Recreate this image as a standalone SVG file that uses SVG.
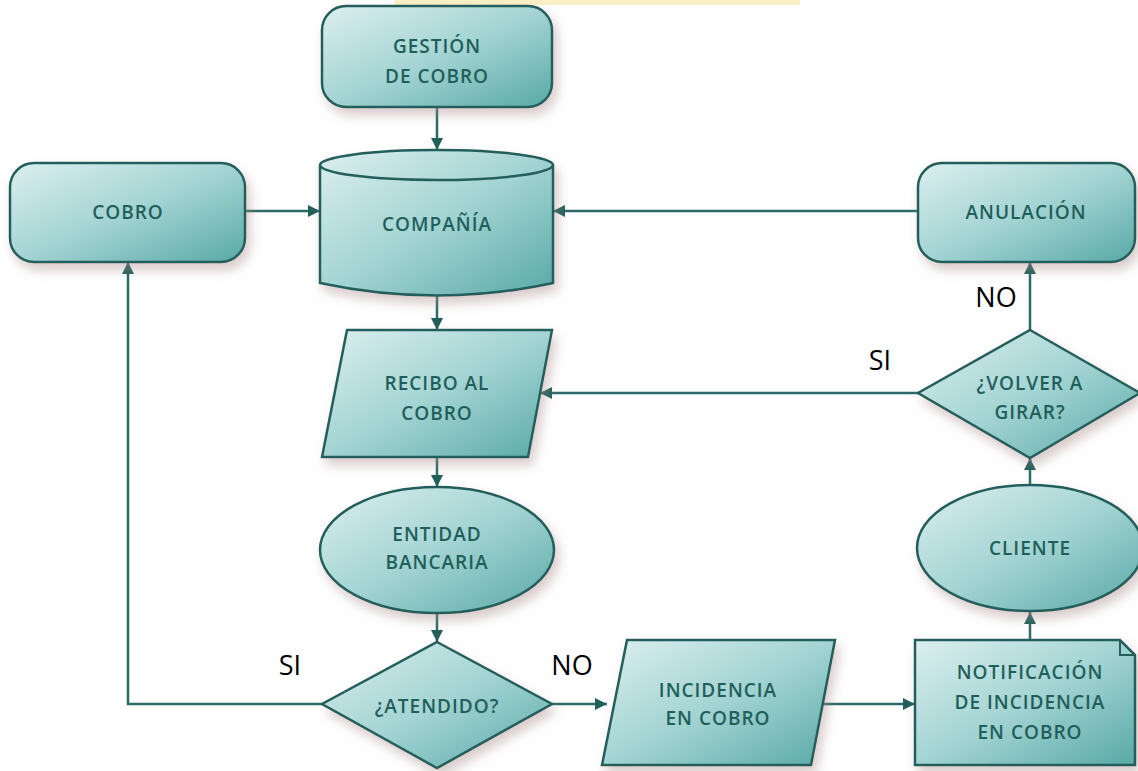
<svg xmlns="http://www.w3.org/2000/svg" width="1138" height="771" viewBox="0 0 1138 771">
<defs>
<linearGradient id="g" x1="0" y1="0" x2="1" y2="1">
<stop offset="0" stop-color="#dcefef"/>
<stop offset="0.5" stop-color="#a3d4d3"/>
<stop offset="1" stop-color="#58a9a7"/>
</linearGradient>
<filter id="sh" x="-20%" y="-20%" width="150%" height="160%">
<feDropShadow dx="4" dy="7" stdDeviation="6" flood-color="#a88a8a" flood-opacity="0.45"/>
</filter>
<marker id="ah" viewBox="0 0 10 10" refX="10" refY="5" markerWidth="12" markerHeight="12" markerUnits="userSpaceOnUse" orient="auto">
<path d="M0,0 L10,5 L0,10 z" fill="#215f5a"/>
</marker>
</defs>
<style>
.n{fill:url(#g);stroke:#245f5b;stroke-width:2.5;filter:url(#sh)}
.t{font-family:"Open Sans","DejaVu Sans",sans-serif;font-weight:600;font-size:19px;fill:#1f5f5a;text-anchor:middle;letter-spacing:1px}
.l{font-family:"Open Sans","DejaVu Sans",sans-serif;font-size:27px;fill:#000;text-anchor:middle}
.ca{fill:none;stroke:#2b6a66;stroke-width:2.5;marker-end:url(#ah)}
</style>
<rect x="0" y="0" width="1138" height="771" fill="#ffffff"/>
<rect x="395" y="0" width="405" height="5" fill="#fbefc6"/>

<g id="connectors">
<line class="ca" x1="437" y1="107" x2="437" y2="150"/>
<line class="ca" x1="245" y1="211" x2="320" y2="211"/>
<line class="ca" x1="918" y1="211" x2="553" y2="211"/>
<line class="ca" x1="437" y1="296" x2="437" y2="330"/>
<line class="ca" x1="918" y1="393" x2="540" y2="393"/>
<line class="ca" x1="437" y1="457" x2="437" y2="487"/>
<line class="ca" x1="437" y1="613" x2="437" y2="642"/>
<polyline class="ca" points="322,704 128,704 128,262"/>
<line class="ca" x1="552" y1="704" x2="607" y2="704"/>
<line class="ca" x1="822" y1="704" x2="915" y2="704"/>
<line class="ca" x1="1030" y1="640" x2="1030" y2="612"/>
<line class="ca" x1="1030" y1="485" x2="1030" y2="458"/>
<line class="ca" x1="1030" y1="330" x2="1030" y2="262"/>
<text class="l" x="290" y="675">SI</text>
<text class="l" x="572" y="675">NO</text>
<text class="l" x="880" y="370">SI</text>
<text class="l" x="996" y="307">NO</text>
</g>

<g id="gestion">
<rect class="n" x="322" y="6" width="230" height="101" rx="24"/>
<text class="t" x="437" y="53">GESTIÓN</text>
<text class="t" x="437" y="83">DE COBRO</text>
</g>

<g id="compania">
<path class="n" d="M320,165 A116.5,15 0 0 1 553,165 L553,283 Q437,308 320,283 Z"/>
<path d="M320,165 A116.5,15 0 0 0 553,165" fill="none" stroke="#245f5b" stroke-width="2.5"/>
<text class="t" x="437" y="231">COMPAÑÍA</text>
</g>

<g id="cobro">
<rect class="n" x="10" y="163" width="235" height="99" rx="24"/>
<text class="t" x="128" y="219">COBRO</text>
</g>

<g id="anulacion">
<rect class="n" x="918" y="163" width="217" height="99" rx="24"/>
<text class="t" x="1026" y="219">ANULACIÓN</text>
</g>

<g id="recibo">
<polygon class="n" points="347,330 552,330 528,457 322,457"/>
<text class="t" x="437" y="390">RECIBO AL</text>
<text class="t" x="437" y="420">COBRO</text>
</g>

<g id="entidad">
<ellipse class="n" cx="437" cy="550" rx="117" ry="63"/>
<text class="t" x="437" y="541">ENTIDAD</text>
<text class="t" x="437" y="569">BANCARIA</text>
</g>

<g id="atendido">
<polygon class="n" points="437,642 552,704 437,768 322,704"/>
<text class="t" x="437" y="713">¿ATENDIDO?</text>
</g>

<g id="incidencia">
<polygon class="n" points="627,640 835,640 811,765 602,765"/>
<text class="t" x="718" y="697">INCIDENCIA</text>
<text class="t" x="718" y="725">EN COBRO</text>
</g>

<g id="notificacion">
<path class="n" d="M915,640 L1120,640 L1135,655 L1135,765 L915,765 Z"/>
<path d="M1120,640 L1120,655 L1135,655" fill="none" stroke="#245f5b" stroke-width="2"/>
<text class="t" x="1030" y="679">NOTIFICACIÓN</text>
<text class="t" x="1030" y="709">DE INCIDENCIA</text>
<text class="t" x="1030" y="739">EN COBRO</text>
</g>

<g id="cliente">
<ellipse class="n" cx="1030" cy="548" rx="113" ry="63"/>
<text class="t" x="1030" y="555">CLIENTE</text>
</g>

<g id="volver">
<polygon class="n" points="1030,330 1140,393 1030,458 918,393"/>
<text class="t" x="1030" y="390">¿VOLVER A</text>
<text class="t" x="1030" y="419">GIRAR?</text>
</g>
</svg>
